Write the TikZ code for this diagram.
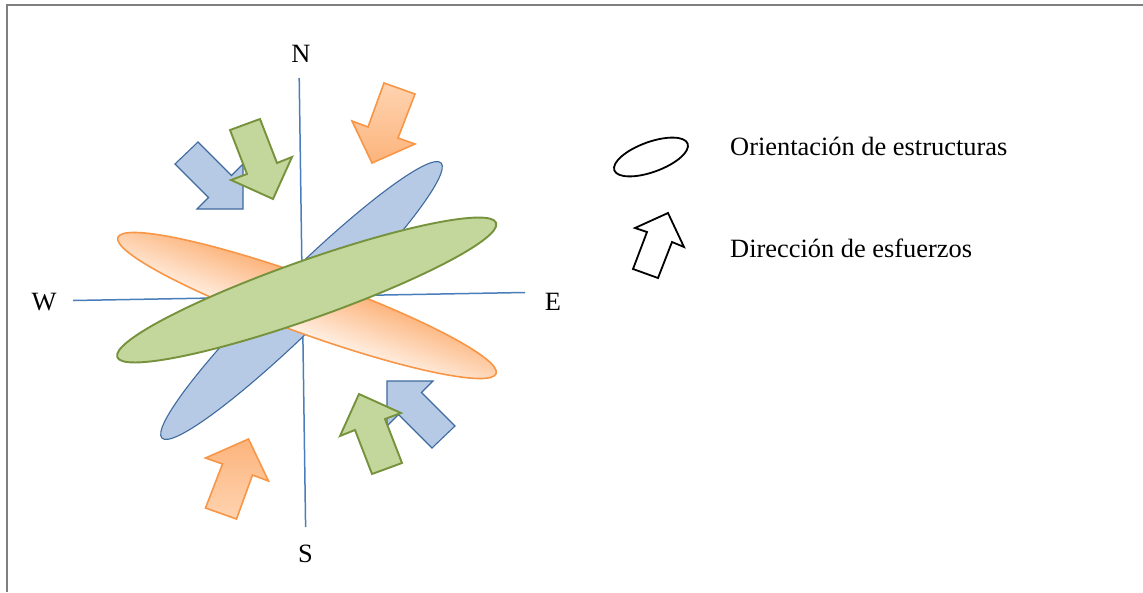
\documentclass[tikz,border=0pt]{standalone}
\usepackage{fontspec}
\setmainfont{Liberation Serif}
\definecolor{framegray}{HTML}{7F7F7F}
\definecolor{axisblue}{HTML}{4A7EBB}
\definecolor{bluefill}{HTML}{B7CAE5}
\definecolor{blueline}{HTML}{3E6A9E}
\definecolor{greenfill}{HTML}{C3D69B}
\definecolor{greenline}{HTML}{76923C}
\definecolor{orangeline}{HTML}{F79646}
\definecolor{orangedark}{HTML}{FCB47C}
\definecolor{orangelight}{HTML}{FFF0E4}
\definecolor{orangetail}{HTML}{FFD3B0}
\begin{document}
\begin{tikzpicture}[x=1pt,y=-1pt,
  lbl/.style={font=\fontsize{26.4}{30}\selectfont, anchor=base, inner sep=0pt},
  framestyle/.style={draw=framegray, line width=1.7pt},
  axisline/.style={draw=axisblue, line width=1.5pt},
  blueshape/.style={draw=blueline, fill=bluefill, line width=1.1pt, line join=miter},
  greenshape/.style={draw=greenline, fill=greenfill, line width=1.9pt, line join=miter},
  orangeshape/.style={draw=orangeline, line width=1.6pt, line join=miter},
  legendshape/.style={draw=black, fill=white, line width=1.8pt, line join=miter}]
\useasboundingbox (0,0) rectangle (1143,592);
% frame
\draw[framestyle] (1143,4.8) -- (6.7,4.8) -- (6.7,592);
% axes
\coordinate (axN) at (299.2,78);
\coordinate (axS) at (305.6,527);
\coordinate (axW) at (73,300.5);
\coordinate (axE) at (525,292.5);
\draw[axisline] (axN) -- (axS);
\draw[axisline] (axW) -- (axE);
% ellipses
\begin{scope}[transform canvas={shift={(301.5,300.5)},rotate=44.6}]
  \path[blueshape] (0,0) ellipse [x radius=196, y radius=27];
\end{scope}
\begin{scope}[transform canvas={shift={(307,305.5)},rotate=-19.8}]
  \path[orangeshape, top color=orangedark, bottom color=orangelight] (0,0) ellipse [x radius=201, y radius=28];
\end{scope}
\begin{scope}[transform canvas={shift={(306.7,290)},rotate=19.5}]
  \path[greenshape] (0,0) ellipse [x radius=201, y radius=29];
\end{scope}
% blue arrows
\path[blueshape] (175,164) -- (198,142) -- (231.5,175.5) -- (243,164) -- (243,209) -- (197,209) -- (208.5,197.5) -- cycle;
\path[blueshape] (455,426) -- (432,448) -- (398.5,414.5) -- (387,426) -- (387,381) -- (433,381) -- (421.5,392.5) -- cycle;
% green arrows
\path[greenshape] (230,130) -- (260,119) -- (277,163) -- (292,157) -- (273,199) -- (231,180) -- (247,174) -- cycle;
\path[greenshape] (402,463) -- (372,474) -- (355,430) -- (340,436) -- (359,394) -- (401,413) -- (385,419) -- cycle;
% orange arrows
\path[orangeshape, top color=orangetail, bottom color=orangedark] (384,83) -- (415,94) -- (398,138) -- (415,144) -- (372,163) -- (352,121) -- (368,127) -- cycle;
\path[orangeshape, top color=orangedark, bottom color=orangetail] (236.5,519) -- (205.5,508) -- (222.5,464) -- (205.5,458) -- (248.5,439) -- (268.5,481) -- (252.5,475) -- cycle;
% compass labels
\node[lbl] (N) at (301,62) {N};
\node[lbl] (S) at (305.5,562.5) {S};
\node[lbl] (W) at (44,310) {W};
\node[lbl] (E) at (553,310) {E};
% legend
\begin{scope}[transform canvas={shift={(651,157)},rotate=20}]
  \path[legendshape] (0,0) ellipse [x radius=39, y radius=15];
\end{scope}
\path[legendshape] (668,213) -- (684,247) -- (672,242) -- (658,278) -- (633,269) -- (647,232) -- (635,228) -- cycle;
\node[lbl, anchor=base west] (t1) at (730,155) {Orientación de estructuras};
\node[lbl, anchor=base west] (t2) at (730,257) {Dirección de esfuerzos};
\end{tikzpicture}
\end{document}
